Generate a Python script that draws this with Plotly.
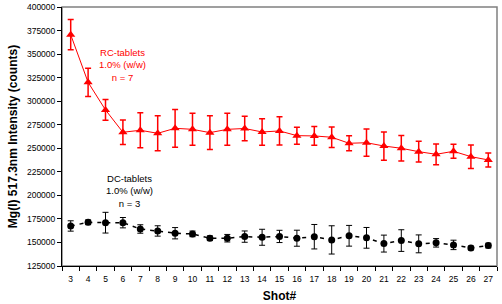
import plotly.graph_objects as go

shots = list(range(3, 28))
shot_labels = [str(s) for s in shots]

rc_mean = [370600, 320000, 290700, 267000, 269100, 265900, 271200, 270100, 266600, 270100,
           271000, 267300, 268400, 263400, 263100, 261700, 255300, 255900, 252400, 250000,
           246400, 243600, 246800, 241100, 237600]
rc_err = [16000, 15000, 11000, 13000, 18500, 18500, 20000, 17000, 18000, 17000,
          13000, 14000, 15000, 9000, 10000, 11000, 8000, 14500, 15000, 13500,
          11000, 11000, 7500, 12500, 7500]

dc_mean = [167500, 171400, 171000, 171000, 164300, 162200, 159800, 159100, 154500, 154500,
           156200, 155500, 156400, 154500, 156100, 152700, 157100, 154900, 148800, 152000,
           148500, 149600, 147400, 144200, 146700]
dc_err = [5500, 2500, 11000, 5500, 4500, 5500, 6000, 3000, 2500, 4000,
          6000, 8500, 6500, 8500, 13000, 15000, 11000, 11000, 9000, 11500,
          9500, 4500, 5000, 2000, 2500]

y_ticks = list(range(125000, 400001, 25000))

FONT = "Liberation Sans, Arial, sans-serif"

fig = go.Figure()

fig.add_trace(go.Scatter(
    x=shot_labels, y=rc_mean, mode="lines+markers",
    line=dict(color="#FF0000", width=1),
    marker=dict(symbol="triangle-up", size=8, color="#FF0000"),
    error_y=dict(type="data", array=rc_err, visible=True, color="#FF0000", thickness=1.5, width=3),
    showlegend=False,
))

fig.add_trace(go.Scatter(
    x=shot_labels, y=dc_mean, mode="lines+markers",
    line=dict(color="#000000", width=1.5, dash="4px,5px"),
    marker=dict(symbol="circle", size=7, color="#000000"),
    error_y=dict(type="data", array=dc_err, visible=True, color="#000000", thickness=1, width=3),
    showlegend=False,
))

fig.add_annotation(x=0.14, y=0.776, xref="paper", yref="paper",
                   xanchor="center", yanchor="middle",
                   text="RC-tablets<br>1.0% (w/w)<br>n = 7", showarrow=False,
                   font=dict(family=FONT, size=9.5, color="#FF0000"), align="center")
fig.add_annotation(x=0.156, y=0.29, xref="paper", yref="paper",
                   xanchor="center", yanchor="middle",
                   text="DC-tablets<br>1.0% (w/w)<br>n = 3", showarrow=False,
                   font=dict(family=FONT, size=9.5, color="#000000"), align="center")

# gray plot-area frame (top/right)
fig.add_shape(type="rect", xref="paper", yref="paper", x0=0, y0=0, x1=1, y1=1,
              line=dict(color="#808080", width=1.5), layer="below")

fig.update_layout(
    width=502, height=304,
    margin=dict(l=62, r=5, t=7, b=38),
    paper_bgcolor="white", plot_bgcolor="white",
    font=dict(family=FONT, size=8.5, color="#000000"),
    xaxis=dict(
        type="category", range=[-0.5, len(shot_labels) - 0.5],
        tickson="boundaries", ticks="outside", ticklen=4,
        tickcolor="#000000", showline=True, linecolor="#000000", linewidth=1,
        showgrid=False, zeroline=False, tickangle=0, automargin=False,
        ticklabelstandoff=5,
        title=dict(text="<b>Shot#</b>", font=dict(family=FONT, size=12), standoff=8),
        tickfont=dict(family=FONT, size=8.5),
    ),
    yaxis=dict(
        range=[125000, 400000], tickvals=y_ticks, ticktext=[str(v) for v in y_ticks],
        ticks="outside", ticklen=4, tickcolor="#000000",
        showline=True, linecolor="#000000", linewidth=1,
        showgrid=False, zeroline=False, automargin=False,
        title=dict(text="<b>Mg(I) 517.3nm Intensity (counts)</b>", font=dict(family=FONT, size=12), standoff=6),
        tickfont=dict(family=FONT, size=8.5),
    ),
)

fig.write_html("out.html")
